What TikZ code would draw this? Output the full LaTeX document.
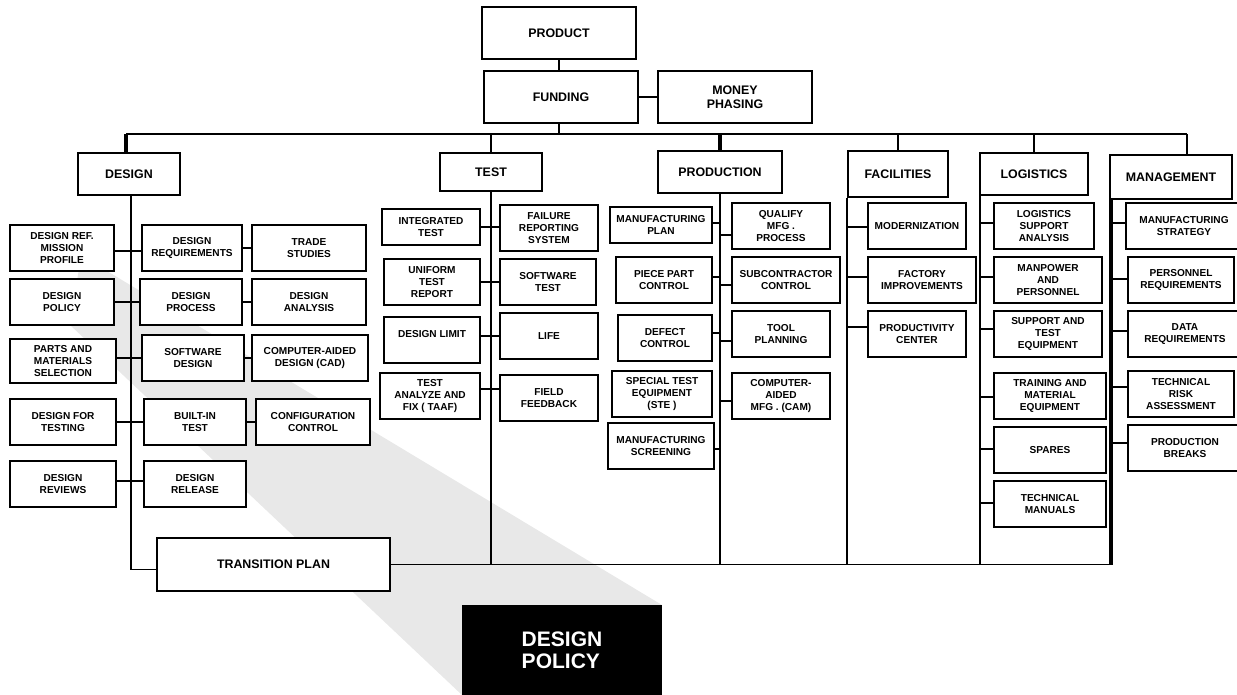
\documentclass[tikz,border=0pt]{standalone}
\usepackage{fontspec}
\setmainfont{Liberation Sans}
\newcommand{\bx}[7][box]{\node[#1, minimum width={(#5-#3)*1pt}, minimum height={(#6-#4)*1pt}] (#2) at ({(#3+#5)/2},{(#4+#6)/2}) {#7};}
\newcommand{\stubR}[3]{\path ([yshift={(-(#3))*1pt}]#2.west) coordinate (tmp); \draw[ln] (tmp -| #1) -- (tmp);}
\newcommand{\stubL}[3]{\path ([yshift={(-(#3))*1pt}]#2.east) coordinate (tmp); \draw[ln] (tmp) -- (tmp -| #1);}
\begin{document}
\begin{tikzpicture}[x=1pt,y=-1pt,
  box/.style={draw, line width=1.7pt, fill=white, inner sep=1pt, align=center, font=\fontsize{10.1}{12}\selectfont\bfseries},
  head/.style={box, font=\fontsize{12.4}{14.5}\selectfont\bfseries},
  ln/.style={line width=1.7pt},
  thk/.style={line width=4pt}]
\useasboundingbox (0,0) rectangle (1237,695);
% callout shadow
\fill[black!9] (80,262) -- (92,262) -- (662,605) -- (462,695) -- (70,325) -- cycle;
\node[fill=black, minimum width=200pt, minimum height=90pt, inner sep=0pt, text=white, align=left, font=\fontsize{21}{22}\selectfont\bfseries] (big) at (562,650) {DESIGN\\POLICY};

% top
\bx[head]{product}{482}{7}{636}{59}{PRODUCT}
\bx[head]{funding}{484}{71}{638}{123}{FUNDING}
\bx[head]{money}{658}{71}{812}{123}{MONEY\\PHASING}
\bx[head]{design}{78}{153}{180}{195}{DESIGN}
\bx[head]{test}{440}{153}{542}{191}{TEST}
\bx[head]{prod}{658}{151}{782}{193}{PRODUCTION}
\bx[head]{fac}{848}{151}{948}{197}{FACILITIES}
\bx[head]{logi}{980}{153}{1088}{195}{LOGISTICS}
\bx[head]{mgmt}{1110}{155}{1232}{199}{MANAGEMENT}

% design column
\bx{dref}{10}{225}{114}{271}{DESIGN REF.\\MISSION\\PROFILE}
\bx{dreq}{142}{225}{242}{271}{DESIGN\\REQUIREMENTS}
\bx{trade}{252}{225}{366}{271}{TRADE\\STUDIES}
\bx{dpol}{10}{279}{114}{325}{DESIGN\\POLICY}
\bx{dproc}{140}{279}{242}{325}{DESIGN\\PROCESS}
\bx{dana}{252}{279}{366}{325}{DESIGN\\ANALYSIS}
\bx{parts}{10}{339}{116}{383}{PARTS AND\\MATERIALS\\SELECTION}
\bx{swd}{142}{335}{244}{381}{SOFTWARE\\DESIGN}
\bx{cad}{252}{335}{368}{381}{COMPUTER-AIDED\\DESIGN (CAD)}
\bx{dft}{10}{399}{116}{445}{DESIGN FOR\\TESTING}
\bx{bit}{144}{399}{246}{445}{BUILT-IN\\TEST}
\bx{cfg}{256}{399}{370}{445}{CONFIGURATION\\CONTROL}
\bx{drev}{10}{461}{116}{507}{DESIGN\\REVIEWS}
\bx{drel}{144}{461}{246}{507}{DESIGN\\RELEASE}
\bx[head]{trans}{157}{538}{390}{591}{TRANSITION PLAN}

% test column
\bx{itest}{382}{209}{480}{245}{INTEGRATED\\TEST}
\bx{frs}{500}{205}{598}{251}{FAILURE\\REPORTING\\SYSTEM}
\bx{utr}{384}{259}{480}{305}{UNIFORM\\TEST\\REPORT}
\bx{swt}{500}{259}{596}{305}{SOFTWARE\\TEST}
\bx{dlim}{384}{317}{480}{363}{DESIGN LIMIT\\\mbox{}}
\bx{life}{500}{313}{598}{359}{LIFE}
\bx{taaf}{380}{373}{480}{419}{TEST\\ANALYZE AND\\FIX ( TAAF)}
\bx{ffb}{500}{375}{598}{421}{FIELD\\FEEDBACK}

% production column
\bx{mplan}{610}{207}{712}{243}{MANUFACTURING\\PLAN}
\bx{qual}{732}{203}{830}{249}{QUALIFY\\MFG .\\PROCESS}
\bx{ppc}{616}{257}{712}{303}{PIECE PART\\CONTROL}
\bx{subc}{732}{257}{840}{303}{SUBCONTRACTOR\\CONTROL}
\bx{defc}{618}{315}{712}{361}{DEFECT\\CONTROL}
\bx{tool}{732}{311}{830}{357}{TOOL\\PLANNING}
\bx{ste}{612}{371}{712}{417}{SPECIAL TEST\\EQUIPMENT\\(STE )}
\bx{cam}{732}{373}{830}{419}{COMPUTER-\\AIDED\\MFG . (CAM)}
\bx{mscr}{608}{423}{714}{469}{MANUFACTURING\\SCREENING}

% facilities column
\bx{modn}{868}{203}{966}{249}{MODERNIZATION}
\bx{facti}{868}{257}{976}{303}{FACTORY\\IMPROVEMENTS}
\bx{prodc}{868}{311}{966}{357}{PRODUCTIVITY\\CENTER}

% logistics column
\bx{lsa}{994}{203}{1094}{249}{LOGISTICS\\SUPPORT\\ANALYSIS}
\bx{manp}{994}{257}{1102}{303}{MANPOWER\\AND\\PERSONNEL}
\bx{ste2}{994}{311}{1102}{357}{SUPPORT AND\\TEST\\EQUIPMENT}
\bx{train}{994}{373}{1106}{419}{TRAINING AND\\MATERIAL\\EQUIPMENT}
\bx{spares}{994}{427}{1106}{473}{SPARES}
\bx{tman}{994}{481}{1106}{527}{TECHNICAL\\MANUALS}

% management column
\bx{mstrat}{1126}{203}{1242}{249}{MANUFACTURING\\STRATEGY}
\bx{preq}{1128}{257}{1234}{303}{PERSONNEL\\REQUIREMENTS}
\bx{dreqm}{1128}{311}{1242}{357}{DATA\\REQUIREMENTS}
\bx{trisk}{1128}{371}{1234}{417}{TECHNICAL\\RISK\\ASSESSMENT}
\bx{pbreak}{1128}{425}{1242}{471}{PRODUCTION\\BREAKS}

% top connectors
\coordinate (busL) at (126,134);
\coordinate (busR) at (1187,134);
\draw[ln] (product.south) -- (product.south |- funding.north);
\draw[ln] (funding.east) -- (money.west);
\draw[ln] (product.south |- funding.south) -- (product.south |- busL);
\draw[ln] (busL) -- (busR);
\draw[thk] (busL) -- (busL |- design.north);
\draw[ln] (test.north |- busL) -- (test.north);
\draw[thk] (prod.north |- busL) -- (prod.north);
\draw[ln] (fac.north |- busL) -- (fac.north);
\draw[ln] (logi.north |- busL) -- (logi.north);
\draw[ln] (busR) -- (busR |- mgmt.north);

% design column lines
\coordinate (dtop) at (131,195);
\path ([yshift=-5pt]trans.west) coordinate (tw);
\draw[ln] (design.south -| dtop) -- (dtop |- tw) -- (tw);
\draw[ln] ([yshift=-3pt]dref.east) -- ([yshift=-3pt]dreq.west);
\draw[ln] (dreq.east) -- (trade.west);
\draw[ln] (dpol.east) -- (dproc.west);
\draw[ln] (dproc.east) -- (dana.west);
\draw[ln] (parts.east |- swd.west) -- (swd.west);
\draw[ln] (swd.east) -- (cad.west);
\draw[ln] (dft.east |- bit.west) -- (bit.west);
\draw[ln] (bit.east) -- (cfg.west);
\draw[ln] ([yshift=3pt]drev.east) -- ([yshift=3pt]drel.west);

% management vertical reference
\path ([xshift=2pt]mgmt.south west) coordinate (mv);

% bottom line and verticals
\draw[ln] (trans.east) -- (trans.east -| mv);
\draw[ln] (test.south) -- (test.south |- trans.east);
\draw[ln] (prod.south) -- (prod.south |- trans.east);
\draw[ln] (fac.south west) -- (fac.south west |- trans.east);
\draw[ln] ([xshift=1pt]logi.south west) -- ([xshift=1pt]logi.south west |- trans.east);
\draw[thk] (mv) -- ([yshift=-0.85pt]mv |- trans.east);

% test connectors
\draw[ln] (itest.east) -- (itest.east -| frs.west);
\draw[ln] (utr.east) -- (swt.west);
\draw[ln] (dlim.east |- life.west) -- (life.west);
\path ([yshift=7pt]taaf.east) coordinate (tf);
\draw[ln] (tf) -- (tf -| ffb.west);

% production stubs
\stubL{prod.south}{mplan}{-2}
\stubR{prod.south}{qual}{9}
\stubL{prod.south}{ppc}{-3}
\stubR{prod.south}{subc}{5}
\stubL{prod.south}{defc}{-5}
\stubR{prod.south}{tool}{7}
\stubR{prod.south}{cam}{5}
\stubL{prod.south}{mscr}{3}

% facilities stubs
\stubR{fac.south west}{modn}{1}
\stubR{fac.south west}{facti}{-3}
\stubR{fac.south west}{prodc}{-7}

% logistics stubs
\stubR{logi.south west}{lsa}{-3}
\stubR{logi.south west}{manp}{-3}
\stubR{logi.south west}{ste2}{-5}
\stubR{logi.south west}{train}{1}
\stubR{logi.south west}{spares}{-1}
\stubR{logi.south west}{tman}{-1}

% management stubs
\stubR{mv}{mstrat}{-3}
\stubR{mv}{preq}{-1}
\stubR{mv}{dreqm}{-3}
\stubR{mv}{trisk}{-7}
\stubR{mv}{pbreak}{-5}
\end{tikzpicture}
\end{document}
